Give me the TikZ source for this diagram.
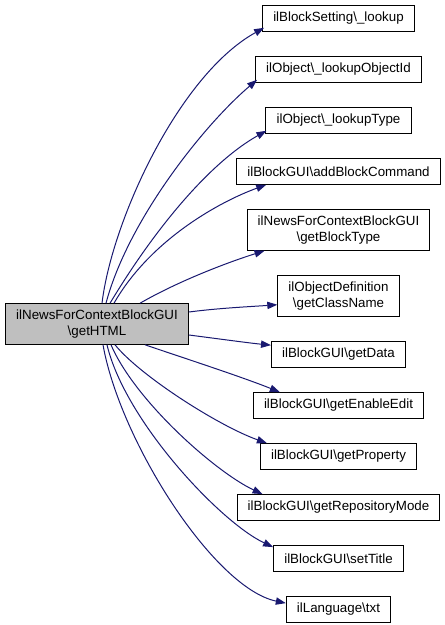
\documentclass[tikz,border=0pt]{standalone}
\usepackage{fontspec}
\setmainfont{Liberation Sans}
\usepackage{tikz}
\usetikzlibrary{shapes,arrows,arrows.meta,positioning,calc}
\definecolor{midnight}{RGB}{25,25,112}
\definecolor{graynode}{RGB}{191,191,191}

\begin{document}
\begin{tikzpicture}[x=0.75pt, y=-0.75pt]
    \tikzstyle{func} = [draw=black, fill=white, rectangle, line width=0.75pt, inner xsep=8pt, inner ysep=4.8pt, minimum height=19.2pt, align=center, font=\fontsize{10}{11.5}\selectfont]
    \tikzstyle{current} = [func, fill=graynode]
    \tikzstyle{call} = [draw=midnight, line width=0.75pt, -{Triangle[length=7.5pt,width=5.5pt]}]

    \useasboundingbox (0,0) rectangle (445,625);

    \node [current] (main) at (97,324) {ilNewsForContextBlockGUI\\\textbackslash getHTML};
    \node [func] (lookup) at (338.5,18.5) {ilBlockSetting\textbackslash\_lookup};
    \node [func, below=18.3pt of lookup] (objid) {ilObject\textbackslash\_lookupObjectId};
    \node [func, below=18.3pt of objid] (objtype) {ilObject\textbackslash\_lookupType};
    \node [func, below=18.3pt of objtype] (addcmd) {ilBlockGUI\textbackslash addBlockCommand};
    \node [func, below=18.3pt of addcmd] (blocktype) {ilNewsForContextBlockGUI\\\textbackslash getBlockType};
    \node [func, below=18.3pt of blocktype] (classname) {ilObjectDefinition\\\textbackslash getClassName};
    \node [func, below=18.3pt of classname] (getdata) {ilBlockGUI\textbackslash getData};
    \node [func, below=18.3pt of getdata] (editable) {ilBlockGUI\textbackslash getEnableEdit};
    \node [func, below=18.3pt of editable] (property) {ilBlockGUI\textbackslash getProperty};
    \node [func, below=18.3pt of property] (repomode) {ilBlockGUI\textbackslash getRepositoryMode};
    \node [func, below=18.3pt of repomode] (settitle) {ilBlockGUI\textbackslash setTitle};
    \node [func, below=18.3pt of settitle] (txt) {ilLanguage\textbackslash txt};

    \draw [call] ([shift={(5,0)}]main.north) .. controls +(10,-83) and +(-85,47) .. ([shift={(2,-4)}]lookup.south west);
    \draw [call] ([shift={(9,0)}]main.north) .. controls +(22,-83) and +(-53,45) .. ([shift={(2,-3)}]objid.south west);
    \draw [call] ([shift={(13,0)}]main.north) .. controls +(50,-83) and +(-52,29) .. ([shift={(1,-3)}]objtype.south west);
    \draw [call] ([shift={(17,0)}]main.north) .. controls +(36,-63) and +(-47,17) .. ([shift={(30,0)}]addcmd.south west);
    \draw [call] ([shift={(43,0)}]main.north) .. controls +(40,-23) and +(-35,11) .. ([shift={(18,0)}]blocktype.south west);
    \draw [call] ([shift={(0,-12)}]main.east) .. controls +(31,-4) and +(-28,2) .. ([shift={(0,-12)}]classname.south west);
    \draw [call] ([shift={(0,11)}]main.east) .. controls +(31,4) and +(-21,-2) .. ([shift={(0,4)}]getdata.north west);
    \draw [call] ([shift={(48,0)}]main.south) .. controls +(35,12) and +(-40,-16) .. ([shift={(27,0)}]editable.north west);
    \draw [call] ([shift={(18,0)}]main.south) .. controls +(25,31) and +(-48,-17) .. ([shift={(7,0)}]property.north west);
    \draw [call] ([shift={(14,0)}]main.south) .. controls +(24,56) and +(-47,-22) .. ([shift={(26,0)}]repomode.north west);
    \draw [call] ([shift={(10,0)}]main.south) .. controls +(18,76) and +(-53,-25) .. ([shift={(0,2)}]settitle.north west);
    \draw [call] ([shift={(6,0)}]main.south) .. controls +(17,96) and +(-72,-15) .. ([shift={(0,7)}]txt.north west);
\end{tikzpicture}
\end{document}
